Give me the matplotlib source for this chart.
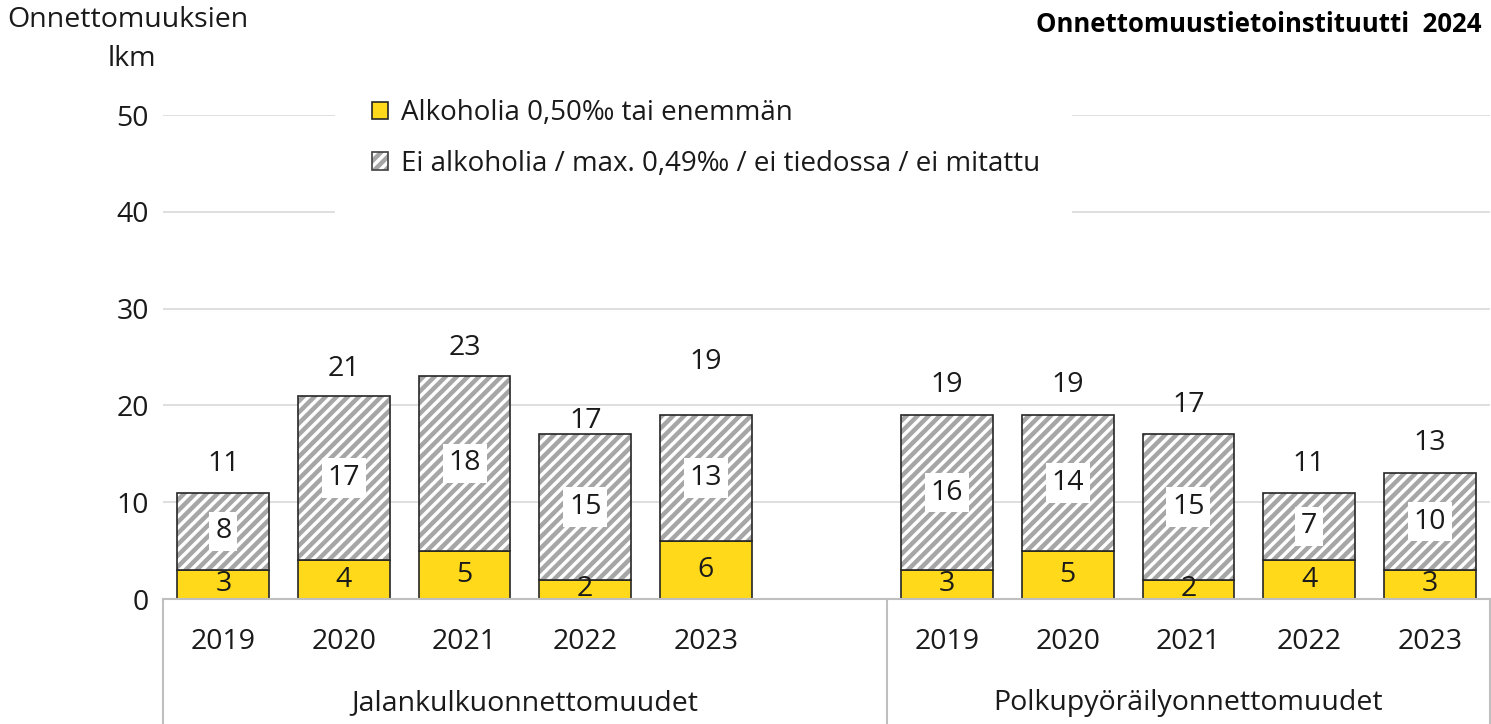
import matplotlib.pyplot as plt
from matplotlib.patches import Patch, Rectangle

plt.rcParams['font.family'] = ['Open Sans', 'DejaVu Sans']
plt.rcParams['hatch.linewidth'] = 3.2

years = ['2019', '2020', '2021', '2022', '2023']
groups = ['Jalankulkuonnettomuudet', 'Polkupyöräilyonnettomuudet']
alcohol = [3, 4, 5, 2, 6, 3, 5, 2, 4, 3]
no_alcohol = [8, 17, 18, 15, 13, 16, 14, 15, 7, 10]
total_offsets = [29, 27, 28, 13, 53, 30, 30, 29, 29, 30]  # px above bar top

yellow = '#ffd91a'
hatch_grey = '#a6a6a6'
axis_grey = '#bfbfbf'
text_col = '#1a1a1a'
fs = 20.5

x = [0, 1, 2, 3, 4, 6, 7, 8, 9, 10]
w = 0.76

fig = plt.figure(figsize=(14.91, 7.24), dpi=100)
ax = fig.add_axes([163 / 1491, 1 - 599 / 724, 1327 / 1491, 484 / 724])
ax.set_axisbelow(True)

ax.bar(x, alcohol, w, color=yellow, edgecolor='#262626', linewidth=1.2, zorder=3)
ax.bar(x, no_alcohol, w, bottom=alcohol, color='white', edgecolor=hatch_grey,
       hatch='///', linewidth=0, zorder=3)
ax.bar(x, no_alcohol, w, bottom=alcohol, fill=False, edgecolor='#262626',
       linewidth=1.2, zorder=4)

for xi, a, n, off in zip(x, alcohol, no_alcohol, total_offsets):
    ax.text(xi, a / 2, str(a), ha='center', va='center', fontsize=fs,
            color=text_col, zorder=5)
    ax.text(xi, a + n / 2, str(n), ha='center', va='center', fontsize=fs,
            color=text_col, zorder=5,
            bbox=dict(facecolor='white', edgecolor='none', pad=4))
    ax.annotate(str(a + n), (xi, a + n), xytext=(0, off * 0.72),
                textcoords='offset points', ha='center', va='center',
                fontsize=fs, color=text_col)

ax.set_xlim(-0.5, 10.5)
ax.set_ylim(0, 50)
ax.set_yticks(range(0, 51, 10))
ax.yaxis.grid(True, color='#d9d9d9', linewidth=1.2)
ax.tick_params(axis='y', length=0, pad=10, labelsize=fs, labelcolor=text_col)
for s in ['top', 'right', 'left']:
    ax.spines[s].set_visible(False)
ax.spines['bottom'].set_color(axis_grey)
ax.spines['bottom'].set_linewidth(1.5)
ax.spines['bottom'].set_zorder(6)

ax.set_xticks(x)
ax.set_xticklabels(years * 2)
ax.tick_params(axis='x', length=0, pad=21, labelsize=fs, labelcolor=text_col)

# category separators below the axis
for xv in [-0.5, 5.5, 10.5]:
    ax.plot([xv, xv], [0, -0.26], transform=ax.get_xaxis_transform(),
            color=axis_grey, linewidth=1.5, clip_on=False)

for gx, name in zip([2.5, 8.0], groups):
    ax.annotate(name, (gx, 0), xycoords=('data', 'axes fraction'),
                xytext=(0, -75), textcoords='offset points', ha='center',
                va='center', fontsize=fs, color=text_col)

fig.text(128 / 1491, 1 - 20 / 724, 'Onnettomuuksien', ha='center', va='center',
         fontsize=fs, color=text_col)
fig.text(132 / 1491, 1 - 59 / 724, 'lkm', ha='center', va='center',
         fontsize=fs, color=text_col)
fig.text(1482 / 1491, 1 - 25 / 724, 'Onnettomuustietoinstituutti  2024',
         ha='right', va='center', fontsize=18.5, fontweight='bold', color='black')

# white legend area covering the gridlines
ax.add_patch(Rectangle((335 / 1491, 1 - 218 / 724), 737 / 1491, 130 / 724,
                       transform=fig.transFigure, facecolor='white',
                       edgecolor='none', zorder=1, clip_on=False))

h1 = Patch(facecolor=yellow, edgecolor='#262626', linewidth=1.2)
h2a = Patch(facecolor='white', edgecolor=hatch_grey, hatch='///', linewidth=0)
h2b = Patch(fill=False, edgecolor='#404040', linewidth=1.2)
leg = ax.legend([h1, (h2a, h2b)],
                ['Alkoholia 0,50‰ tai enemmän',
                 'Ei alkoholia / max. 0,49‰ / ei tiedossa / ei mitattu'],
                loc='upper left', bbox_to_anchor=(372 / 1491, 1 - 99 / 724),
                bbox_transform=fig.transFigure, fontsize=20, frameon=False,
                handlelength=0.58, handleheight=0.58, handletextpad=0.45,
                labelspacing=0.82, borderpad=0, borderaxespad=0)
leg.set_zorder(10)
for t in leg.get_texts():
    t.set_color(text_col)

fig.savefig('out.png', dpi=100)
